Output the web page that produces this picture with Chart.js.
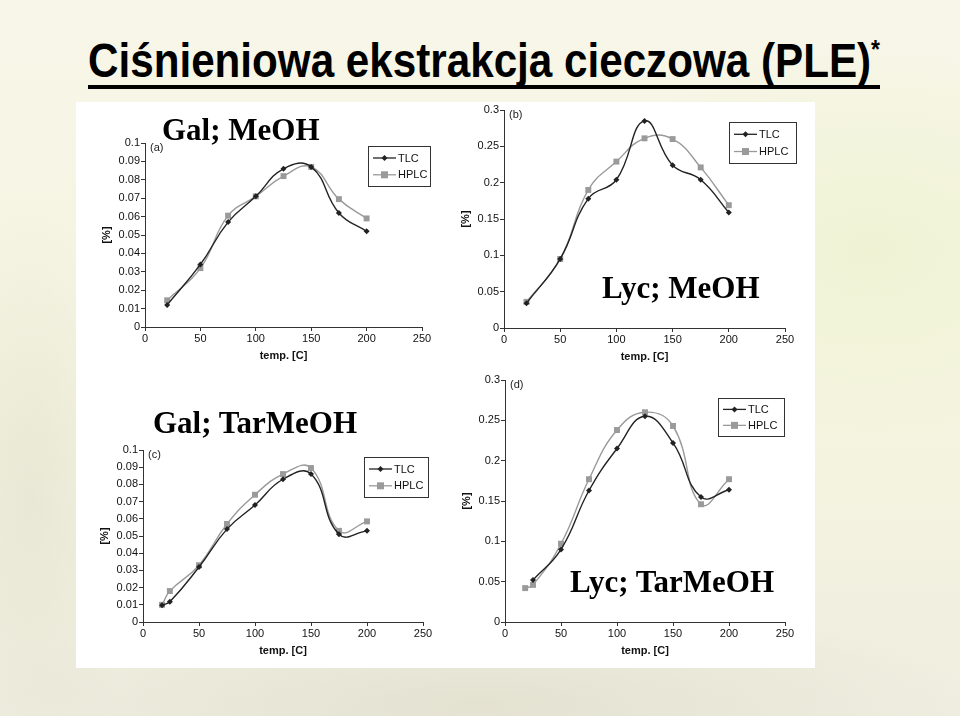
<!DOCTYPE html>
<html><head><meta charset="utf-8">
<script src="https://cdn.jsdelivr.net/npm/chart.js@4"></script>
<style>
html,body{margin:0;padding:0;}
body{width:960px;height:716px;position:relative;overflow:hidden;
background:
 radial-gradient(ellipse 300px 200px at 870px 250px, rgba(236,242,205,0.7), rgba(0,0,0,0)),
 radial-gradient(ellipse 520px 110px at 480px 705px, rgba(225,222,205,0.8), rgba(0,0,0,0)),
 radial-gradient(ellipse 110px 300px at 30px 500px, rgba(228,226,208,0.7), rgba(0,0,0,0)),
 linear-gradient(180deg,#f7f6e8 0%,#f5f4e0 60%,#efeee0 100%);
font-family:"Liberation Sans",Arial,sans-serif;}
#title{position:absolute;left:88px;top:33px;font-weight:bold;font-size:48px;line-height:56px;white-space:nowrap;color:#000;transform-origin:0 0;}
#title .ast{font-size:26px;line-height:0;position:relative;top:-19px;}
#uline{position:absolute;left:88px;top:85px;width:792px;height:4px;background:#000;}
#panel{position:absolute;left:76px;top:102px;width:739px;height:566px;background:#fff;}
canvas{position:absolute;}
.big{position:absolute;font-family:"Liberation Serif","Times New Roman",serif;font-weight:bold;font-size:31px;line-height:31px;white-space:nowrap;color:#000;}
</style></head>
<body>
<div id="title">Ciśnieniowa ekstrakcja cieczowa (PLE)<span class="ast">*</span></div>
<div id="uline"></div>
<div id="panel"></div>
<canvas id="ca"></canvas>
<canvas id="cb"></canvas>
<canvas id="cc"></canvas>
<canvas id="cd"></canvas>
<div class="big" style="left:162px;top:114px;">Gal; MeOH</div>
<div class="big" style="left:602px;top:272px;">Lyc; MeOH</div>
<div class="big" style="left:153px;top:407px;">Gal; TarMeOH</div>
<div class="big" style="left:570px;top:566px;">Lyc; TarMeOH</div>
<script>
// ---- data ----
const seriesNames = ['TLC','HPLC'];
const xTicks = ['0','50','100','150','200','250'];
const yTicksGal = ['0','0.01','0.02','0.03','0.04','0.05','0.06','0.07','0.08','0.09','0.1'];
const yTicksLyc = ['0','0.05','0.1','0.15','0.2','0.25','0.3'];

// (a) Gal; MeOH
const aTlcX  = [20,50,75,100,125,150,175,200];
const aTlcY  = [0.012,0.034,0.057,0.071,0.086,0.087,0.062,0.052];
const aHplcX = [20,50,75,100,125,150,175,200];
const aHplcY = [0.0145,0.032,0.0605,0.071,0.082,0.087,0.0695,0.059];
// (b) Lyc; MeOH
const bTlcX  = [20,50,75,100,125,150,175,200];
const bTlcY  = [0.034,0.095,0.178,0.204,0.285,0.224,0.204,0.159];
const bHplcX = [20,50,75,100,125,150,175,200];
const bHplcY = [0.036,0.095,0.19,0.229,0.261,0.26,0.221,0.169];
// (c) Gal; TarMeOH
const cTlcX  = [17,24,50,75,100,125,150,175,200];
const cTlcY  = [0.0098,0.0118,0.032,0.054,0.068,0.083,0.086,0.051,0.053];
const cHplcX = [17,24,50,75,100,125,150,175,200];
const cHplcY = [0.010,0.018,0.033,0.057,0.074,0.086,0.0895,0.053,0.0585];
// (d) Lyc; TarMeOH
const dTlcX  = [25,50,75,100,125,150,175,200];
const dTlcY  = [0.052,0.09,0.163,0.215,0.255,0.222,0.155,0.164];
const dHplcX = [18,25,50,75,100,125,150,175,200];
const dHplcY = [0.042,0.046,0.097,0.177,0.238,0.26,0.243,0.146,0.177];

// ---- rendering ----
const TLC_COLOR = '#222222';
const HPLC_COLOR = '#9a9a9a';
const FONT = '"Liberation Sans", Arial, sans-serif';

function pts(xs, ys){ return xs.map((x,i)=>({x:x, y:ys[i]})); }

const panelPlugin = {
  id:'panelDeco',
  afterDraw(chart, args, opts){
    const ctx = chart.ctx, ca = chart.chartArea;
    ctx.save();
    ctx.fillStyle = '#222';
    ctx.font = '11px ' + FONT;
    ctx.textBaseline = 'middle';
    ctx.textAlign = 'left';
    ctx.fillText(opts.letter, ca.left + 5, ca.top + 5);
    // legend box
    const lx = ca.right + opts.lg.dx, ly = ca.top + opts.lg.dy, lw = opts.lg.w, lh = opts.lg.h;
    ctx.fillStyle = '#fff';
    ctx.fillRect(lx, ly, lw, lh);
    ctx.strokeStyle = '#333';
    ctx.lineWidth = 1;
    ctx.strokeRect(lx + 0.5, ly + 0.5, lw, lh);
    chart.data.datasets.forEach((ds, i) => {
      const cy = ly + lh * (i === 0 ? 0.3 : 0.72);
      ctx.strokeStyle = ds.borderColor;
      ctx.lineWidth = 1.3;
      ctx.beginPath(); ctx.moveTo(lx + 5, cy); ctx.lineTo(lx + 28, cy); ctx.stroke();
      ctx.fillStyle = ds.borderColor;
      const mx = lx + 16.5;
      if (i === 0){
        ctx.beginPath(); ctx.moveTo(mx, cy-3); ctx.lineTo(mx+3, cy); ctx.lineTo(mx, cy+3); ctx.lineTo(mx-3, cy); ctx.closePath(); ctx.fill();
      } else {
        ctx.fillRect(mx-3.5, cy-3.5, 7, 7);
      }
      ctx.fillStyle = '#111';
      ctx.font = '11px ' + FONT;
      ctx.fillText(ds.label, lx + 30, cy + 0.5);
    });
    ctx.restore();
  }
};

function makePanel(id, box, yMax, yStep, yLabels, tlc, hplc, letter, lg){
  const cv = document.getElementById(id);
  const W = box.R - box.L + 50 + 25, H = box.B - box.T + 12 + 45;
  cv.width = W; cv.height = H;
  cv.style.left = (box.L - 50) + 'px';
  cv.style.top = (box.T - 12) + 'px';
  cv.style.width = W + 'px'; cv.style.height = H + 'px';
  new Chart(cv, {
    type:'line',
    data:{datasets:[
      {label:seriesNames[0], data:tlc, borderColor:TLC_COLOR, backgroundColor:TLC_COLOR, borderWidth:1.4,
       pointStyle:'rectRot', pointRadius:3, pointBorderWidth:0, tension:0.45, fill:false},
      {label:seriesNames[1], data:hplc, borderColor:HPLC_COLOR, backgroundColor:HPLC_COLOR, borderWidth:1.4,
       pointStyle:'rect', pointRadius:4.2, pointBorderWidth:0, tension:0.45, fill:false}
    ]},
    options:{
      responsive:false, animation:false, devicePixelRatio:1,
      layout:{padding:{top:12,right:25,left:0,bottom:0}},
      plugins:{legend:{display:false}, tooltip:{enabled:false}, panelDeco:{letter:letter, lg:lg}},
      scales:{
        x:{type:'linear', min:0, max:250,
           ticks:{stepSize:50, color:'#111', font:{size:11, family:FONT}, padding:1, maxRotation:0,
                  callback:(v,i)=>xTicks[i]},
           grid:{drawOnChartArea:false, drawTicks:true, tickLength:4, color:'#333'},
           border:{color:'#333', width:1},
           title:{display:true, text:'temp. [C]', color:'#111', font:{size:11, weight:'bold', family:FONT}, padding:{top:0,bottom:9}},
           afterFit:(s)=>{s.height = 45;}},
        y:{min:0, max:yMax,
           ticks:{stepSize:yStep, color:'#111', font:{size:11, family:FONT}, padding:1,
                  callback:(v,i)=>yLabels[i]},
           grid:{drawOnChartArea:false, drawTicks:true, tickLength:4, color:'#333'},
           border:{color:'#333', width:1},
           title:{display:true, text:'[%]', color:'#111', font:{size:11, weight:'bold', family:FONT}, padding:{top:5,bottom:0}},
           afterFit:(s)=>{s.width = 50;}}
      }
    },
    plugins:[panelPlugin]
  });
}

makePanel('ca', {L:145,R:422,T:143,B:327}, 0.1, 0.01, yTicksGal, pts(aTlcX,aTlcY), pts(aHplcX,aHplcY), '(a)', {dx:-54, dy:3, w:62, h:40});
makePanel('cb', {L:504,R:785,T:110,B:328}, 0.3, 0.05, yTicksLyc, pts(bTlcX,bTlcY), pts(bHplcX,bHplcY), '(b)', {dx:-56, dy:12, w:67, h:41});
makePanel('cc', {L:143,R:423,T:450,B:622}, 0.1, 0.01, yTicksGal, pts(cTlcX,cTlcY), pts(cHplcX,cHplcY), '(c)', {dx:-59, dy:7, w:64, h:40});
makePanel('cd', {L:505,R:785,T:380,B:622}, 0.3, 0.05, yTicksLyc, pts(dTlcX,dTlcY), pts(dHplcX,dHplcY), '(d)', {dx:-67, dy:18, w:66, h:38});

// fit title width to 792px
const t = document.getElementById('title');
const tw = t.getBoundingClientRect().width;
t.style.transform = 'scaleX(' + (792 / tw) + ')';
</script>
</body></html>
